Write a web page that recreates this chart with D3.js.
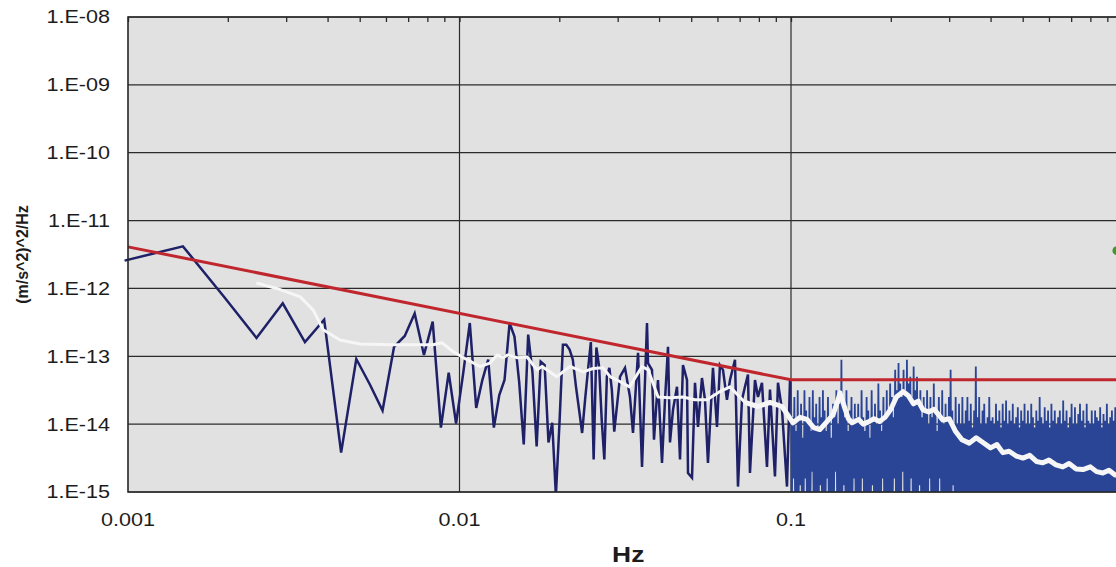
<!DOCTYPE html>
<html>
<head>
<meta charset="utf-8">
<script src="https://cdn.jsdelivr.net/npm/d3@7"></script>
<style>
  body { margin: 0; background: #fff; }
  text { font-family: Arial, "Liberation Sans", sans-serif; fill: #1c1c1c; }
</style>
</head>
<body>
<div id="chart"></div>
<script>
// Axis tick values and labels
var yTickValues = [1e-15, 1e-14, 1e-13, 1e-12, 1e-11, 1e-10, 1e-9, 1e-8];
var yTickLabels = ["1.E-15", "1.E-14", "1.E-13", "1.E-12", "1.E-11", "1.E-10", "1.E-09", "1.E-08"];
var xTickValues = [0.001, 0.01, 0.1];
var xTickLabels = ["0.001", "0.01", "0.1"];
var xGridValues = [0.01, 0.1, 1];

// Measured PSD, low bins (log10 of (m/s^2)^2/Hz), bin k = firstBin .. 60
var binHz = 1 / 2048;
var firstBin = 2;
var lowBinLog = [
  -11.59, -11.38, -12.13, -12.73, -12.22, -12.79, -12.46, -14.42, -13.04, -13.42,
  -13.80, -12.86, -12.70, -12.37, -12.98, -12.49, -14.05, -13.24, -13.99, -13.26,
  -12.51, -13.76, -13.35, -13.05, -14.05, -13.57, -13.35, -12.51, -12.71, -13.38,
  -14.30, -12.68, -13.24, -14.33, -13.08, -13.13, -14.27, -13.98, -15.05, -14.00,
  -12.83, -12.83, -12.90, -13.05, -13.45, -13.79, -14.13, -13.64, -13.20, -12.79,
  -14.52, -12.87, -13.15, -13.94, -14.52, -13.30, -13.17, -13.49, -14.11
];

var midHz = [
  0.03050, 0.03157, 0.03268, 0.03337, 0.03456, 0.03553, 0.03678, 0.03704, 0.03808, 0.03861,
  0.03970, 0.04082, 0.04168, 0.04256, 0.04315, 0.04406, 0.04530, 0.04626, 0.04722, 0.04856,
  0.04890, 0.05028, 0.05133, 0.05241, 0.05388, 0.05502, 0.05617, 0.05816, 0.05980, 0.06105,
  0.06235, 0.06409, 0.06546, 0.06777, 0.06919, 0.07114, 0.07263, 0.07417, 0.07520, 0.07786,
  0.07951, 0.08174, 0.08463, 0.08642, 0.08946, 0.09135, 0.09395, 0.09725, 0.09931
];
var midLog = [
  -13.30, -13.17, -13.60, -14.13, -12.95, -14.63, -12.51, -13.10, -13.20, -14.23,
  -13.35, -14.57, -13.64, -12.86, -14.27, -13.79, -13.45, -14.52, -13.13, -13.35,
  -14.72, -14.79, -13.39, -14.04, -13.32, -13.64, -14.57, -13.17, -14.04, -13.13,
  -13.20, -13.64, -13.35, -13.05, -14.92, -13.64, -13.45, -13.27, -14.72, -13.35,
  -13.60, -13.39, -14.63, -13.49, -14.77, -13.39, -13.79, -14.92, -13.35
];

// Measured PSD, 0.1 - 1 Hz: spike tops and spike bottoms per column
var hfStartHz = 0.1;
var hfEndHz = 1.02;
var hfPeakLog = [
  -13.4, -13.9, -13.6, -14.1, -13.5, -13.9, -13.7, -14.2, -13.5, -13.8, -14.0, -13.6, -14.1, -13.5, -13.9, -13.7, -14.1, -13.6, -13.9, -13.5,
  -13.8, -14.1, -13.6, -13.9, -14.2, -13.7, -13.9, -13.5, -14.0, -13.7, -13.05, -13.6, -13.9, -13.5, -14.1, -13.8, -13.6, -14.0, -13.7, -13.9,
  -13.7, -14.0, -13.5, -13.9, -14.1, -13.6, -13.8, -14.2, -13.5, -13.9, -13.7, -14.0, -13.4, -13.8, -14.1, -13.6, -13.9, -13.5, -13.8, -13.4,
  -13.6, -13.9, -13.2, -13.5, -13.1, -13.4, -13.6, -13.2, -13.5, -13.05, -13.4, -13.3, -13.6, -13.15, -13.5, -13.3, -13.7, -13.5, -13.9, -13.6,
  -13.8, -13.5, -14.0, -13.6, -13.9, -13.4, -13.8, -14.1, -13.6, -13.9, -13.5, -14.0, -13.7, -13.9, -13.6, -13.2, -13.8, -14.1, -13.6, -14.0,
  -13.7, -14.0, -13.6, -14.0, -13.8, -13.6, -13.95, -13.7, -14.05, -13.8, -13.15, -13.9, -13.6, -14.0, -13.8, -13.7, -14.0, -13.9, -13.6, -13.95,
  -13.9, -14.0, -13.7, -13.95, -13.8, -14.05, -13.7, -13.95, -13.65, -14.0, -13.8, -13.95, -13.7, -14.0, -13.9, -13.75, -14.05, -13.8, -13.95, -13.7,
  -14.0, -13.8, -14.0, -13.7, -13.9, -14.05, -13.8, -13.95, -13.6, -13.9, -14.0, -13.75, -13.95, -13.8, -14.05, -13.7, -13.95, -13.8, -14.0, -13.9,
  -13.8, -14.0, -13.65, -13.95, -13.8, -14.05, -13.9, -13.7, -14.0, -13.75, -14.0, -13.85, -13.7, -13.95, -13.8, -14.05, -13.7, -13.95, -14.0, -13.8,
  -14.0, -13.8, -13.9, -13.95, -13.75, -14.05, -13.85, -13.95, -13.7, -14.0, -13.9, -13.8, -13.95, -13.75, -14.05, -13.85, -13.9, -14.0, -13.8, -14.0
];
var hfFloorLog = [
  -15.3, -14.8, -15.3, -15.3, -15.3, -14.9, -15.3, -15.3, -14.8, -15.3, -15.3, -15.3, -14.7, -15.3, -15.3, -15.3, -15.3, -14.9, -15.3, -15.3,
  -15.3, -14.8, -15.3, -15.3, -15.3, -15.3, -14.7, -15.3, -15.3, -15.3, -15.3, -14.9, -15.3, -15.3, -15.3, -15.3, -15.3, -14.8, -15.3, -15.3,
  -15.3, -15.3, -14.8, -15.3, -15.3, -15.3, -15.3, -15.3, -14.9, -15.3, -15.3, -15.3, -15.3, -15.3, -14.8, -15.3, -15.3, -15.3, -15.3, -15.3,
  -15.3, -14.8, -15.3, -15.3, -15.3, -15.3, -14.7, -15.3, -15.3, -15.3, -15.3, -14.8, -15.3, -15.3, -15.3, -15.3, -14.9, -15.3, -15.3, -15.3,
  -15.3, -15.3, -14.8, -15.3, -15.3, -15.3, -15.3, -15.3, -14.8, -15.3, -15.3, -15.3, -15.3, -15.3, -15.3, -15.3, -14.9, -15.3, -15.3, -15.3,
  -15.3, -15.2, -15.4, -15.3, -15.2, -15.4, -15.3, -15.2, -15.4, -15.3, -15.2, -15.4, -15.3, -15.2, -15.4, -15.3, -15.2, -15.4, -15.3, -15.2,
  -15.4, -15.3, -15.2, -15.4, -15.3, -15.2, -15.4, -15.3, -15.2, -15.4, -15.3, -15.2, -15.4, -15.3, -15.2, -15.4, -15.3, -15.2, -15.4, -15.3,
  -15.2, -15.4, -15.3, -15.2, -15.4, -15.3, -15.2, -15.4, -15.3, -15.2, -15.4, -15.3, -15.2, -15.4, -15.3, -15.2, -15.4, -15.3, -15.2, -15.4,
  -15.3, -15.2, -15.4, -15.3, -15.2, -15.4, -15.3, -15.2, -15.4, -15.3, -15.2, -15.4, -15.3, -15.2, -15.4, -15.3, -15.2, -15.4, -15.3, -15.2,
  -15.4, -15.3, -15.2, -15.4, -15.3, -15.2, -15.4, -15.3, -15.2, -15.4, -15.3, -15.2, -15.4, -15.3, -15.2, -15.4, -15.3, -15.2, -15.4, -15.3
];

// Smoothed PSD (white trace)
var avgHz = [
  0.00244, 0.00281, 0.00330, 0.00362, 0.00388, 0.00436, 0.00501, 0.00630, 0.00832, 0.00885,
  0.00955, 0.01054, 0.01153, 0.01236, 0.01297, 0.01352, 0.01400, 0.01490, 0.01599, 0.01714,
  0.01774, 0.01875, 0.01968, 0.02051, 0.02153, 0.02358, 0.02529, 0.02710, 0.02846, 0.02985,
  0.03260, 0.03553, 0.03707, 0.03972, 0.04316, 0.04721, 0.05131, 0.05580, 0.06106, 0.06546,
  0.07264, 0.07943, 0.08643, 0.09396, 0.1014, 0.1065, 0.1117, 0.1170, 0.1222, 0.1280,
  0.1339, 0.1370, 0.1406, 0.1450, 0.1490, 0.1528, 0.1600, 0.1650, 0.1706, 0.1780,
  0.1850, 0.1922, 0.2000, 0.2080, 0.2178, 0.2260, 0.2340, 0.2420, 0.2502, 0.2600,
  0.2700, 0.2873, 0.3000, 0.3130, 0.3279, 0.3450, 0.3620, 0.3793, 0.4000, 0.4180,
  0.4355, 0.4550, 0.4780, 0.5007, 0.5250, 0.5500, 0.5750, 0.6000, 0.6300, 0.6607,
  0.6900, 0.7250, 0.7598, 0.8000, 0.8350, 0.8725, 0.9100, 0.9500, 1.0100
];
var avgLog = [
  -11.92, -12.00, -12.12, -12.32, -12.61, -12.76, -12.82, -12.83, -12.83, -12.80,
  -12.93, -13.05, -13.15, -13.10, -12.98, -13.02, -12.98, -13.02, -13.01, -13.20,
  -13.15, -13.23, -13.30, -13.23, -13.15, -13.23, -13.18, -13.17, -13.30, -13.35,
  -13.45, -13.15, -13.20, -13.60, -13.61, -13.60, -13.64, -13.64, -13.52, -13.45,
  -13.68, -13.74, -13.68, -13.74, -13.98, -13.90, -13.93, -14.05, -14.08, -13.97,
  -13.86, -13.72, -13.54, -13.75, -13.92, -13.98, -13.93, -14.00, -13.97, -13.92,
  -13.96, -13.90, -13.78, -13.60, -13.52, -13.58, -13.70, -13.66, -13.79, -13.82,
  -13.78, -13.94, -13.92, -14.10, -14.23, -14.28, -14.20, -14.27, -14.35, -14.30,
  -14.42, -14.40, -14.47, -14.50, -14.46, -14.55, -14.57, -14.53, -14.60, -14.63,
  -14.58, -14.66, -14.67, -14.63, -14.70, -14.72, -14.68, -14.75, -14.74
];

// Requirement limit (red)
var limitHz = [0.001, 0.1, 1.05];
var limitPsd = [4.1e-12, 4.5e-14, 4.5e-14];

// Single green marker at the right edge
var markerHz = [0.962];
var markerPsd = [3.6e-12];

var svgWidth = 1116;
var svgHeight = 567;

var margin = {
  top: 17,
  left: 128
};

var width = 994.5;
var height = 475;

var svg = d3.select("#chart")
  .append("svg")
  .attr("width", svgWidth)
  .attr("height", svgHeight);

var chartGroup = svg.append("g")
  .attr("transform", `translate(${margin.left}, ${margin.top})`);

// Scales
var xLogScale = d3.scaleLog().domain([0.001, 1]).range([0, width]);
var yLogScale = d3.scaleLog().domain([1e-15, 1e-8]).range([height, 0]);

// Plot background
chartGroup.append("rect")
  .attr("width", width)
  .attr("height", height)
  .attr("fill", "#e1e1e1");

// Grid lines
chartGroup.selectAll(".hgrid")
  .data(yTickValues)
  .enter()
  .append("line")
  .attr("class", "hgrid")
  .attr("x1", 0)
  .attr("x2", width)
  .attr("y1", d => yLogScale(d))
  .attr("y2", d => yLogScale(d))
  .attr("stroke", "#2b2b2b")
  .attr("stroke-width", 1.2);

chartGroup.selectAll(".vgrid")
  .data(xGridValues)
  .enter()
  .append("line")
  .attr("class", "vgrid")
  .attr("x1", d => xLogScale(d))
  .attr("x2", d => xLogScale(d))
  .attr("y1", 0)
  .attr("y2", height)
  .attr("stroke", "#2b2b2b")
  .attr("stroke-width", 1.2);

// Minor ticks along the top edge
var topAxis = d3.axisTop(xLogScale)
  .tickValues(xLogScale.ticks())
  .tickSize(-5)
  .tickFormat("");
chartGroup.append("g")
  .call(topAxis)
  .call(g => g.select(".domain").remove())
  .selectAll("line")
  .attr("stroke", "#2b2b2b")
  .attr("stroke-width", 1.3);

// Clip traces at the bottom of the plot
svg.append("defs").append("clipPath")
  .attr("id", "plotClip")
  .append("rect")
  .attr("x", -20)
  .attr("y", 0)
  .attr("width", width + 20)
  .attr("height", height);

var traceGroup = chartGroup.append("g").attr("clip-path", "url(#plotClip)");

var psdLine = d3.line()
  .x(d => xLogScale(d.hz))
  .y(d => yLogScale(d.psd));

// Build the measured trace
var lowData = [];
lowBinLog.forEach(function(v, i) {
  lowData.push({hz: (firstBin + i) * binHz, psd: Math.pow(10, v)});
});
midHz.forEach(function(h, i) {
  lowData.push({hz: h, psd: Math.pow(10, midLog[i])});
});

var hfStep = Math.pow(hfEndHz / hfStartHz, 1 / (hfPeakLog.length - 1));
var hfData = [lowData[lowData.length - 1]];
hfPeakLog.forEach(function(v, i) {
  var hz = hfStartHz * Math.pow(hfStep, i);
  hfData.push({hz: hz, psd: Math.pow(10, v)});
  hfData.push({hz: hz * Math.sqrt(hfStep), psd: Math.pow(10, hfFloorLog[i])});
});

traceGroup.append("path")
  .datum(hfData)
  .attr("d", psdLine)
  .attr("fill", "none")
  .attr("stroke", "#2a4596")
  .attr("stroke-width", 1.8);

traceGroup.append("path")
  .datum(lowData)
  .attr("d", psdLine)
  .attr("fill", "none")
  .attr("stroke", "#1e2068")
  .attr("stroke-width", 2.5)
  .attr("stroke-linejoin", "miter");

// Smoothed trace (thicker where the spectrum gets dense)
var avgData = avgHz.map((h, i) => ({hz: h, psd: Math.pow(10, avgLog[i])}));
traceGroup.append("path")
  .datum(avgData)
  .attr("d", psdLine)
  .attr("fill", "none")
  .attr("stroke", "#f6f6f6")
  .attr("stroke-width", 3)
  .attr("stroke-linejoin", "round");

traceGroup.append("path")
  .datum(avgData.filter(d => d.hz >= 0.07))
  .attr("d", psdLine)
  .attr("fill", "none")
  .attr("stroke", "#f6f6f6")
  .attr("stroke-width", 5)
  .attr("stroke-linejoin", "round");

// Limit line
var limitData = limitHz.map((h, i) => ({hz: h, psd: limitPsd[i]}));
chartGroup.append("path")
  .datum(limitData)
  .attr("d", psdLine)
  .attr("fill", "none")
  .attr("stroke", "#c0262d")
  .attr("stroke-width", 3);

chartGroup.selectAll(".marker")
  .data(markerHz)
  .enter()
  .append("circle")
  .attr("class", "marker")
  .attr("cx", d => xLogScale(d))
  .attr("cy", (d, i) => yLogScale(markerPsd[i]))
  .attr("r", 4.5)
  .attr("fill", "#3c9a2c");

// Plot frame (left, top, bottom)
chartGroup.append("path")
  .attr("d", `M${width},0H0V${height}H${width}`)
  .attr("fill", "none")
  .attr("stroke", "#262626")
  .attr("stroke-width", 1.6);

// Y tick labels
chartGroup.selectAll(".ylabel")
  .data(yTickValues)
  .enter()
  .append("text")
  .attr("class", "ylabel")
  .attr("transform", d => `translate(-18, ${yLogScale(d)}) scale(1.2, 1)`)
  .attr("dy", "0.36em")
  .attr("text-anchor", "end")
  .style("font-size", "18px")
  .text((d, i) => yTickLabels[i]);

// X tick labels
chartGroup.selectAll(".xlabel")
  .data(xTickValues)
  .enter()
  .append("text")
  .attr("class", "xlabel")
  .attr("transform", d => `translate(${xLogScale(d)}, ${height + 28}) scale(1.2, 1)`)
  .attr("dy", "0.36em")
  .attr("text-anchor", "middle")
  .style("font-size", "18px")
  .text((d, i) => xTickLabels[i]);

// Axis titles
chartGroup.append("text")
  .attr("transform", `translate(${width / 2 + 3}, ${height + 62}) scale(1.2, 1)`)
  .attr("dy", "0.36em")
  .attr("text-anchor", "middle")
  .style("font-size", "22px")
  .style("font-weight", "bold")
  .text("Hz");

chartGroup.append("text")
  .attr("transform", `translate(-106, ${height / 2}) rotate(-90)`)
  .attr("dy", "0.36em")
  .attr("text-anchor", "middle")
  .style("font-size", "16px")
  .style("font-weight", "bold")
  .text("(m/s^2)^2/Hz");
</script>
</body>
</html>
